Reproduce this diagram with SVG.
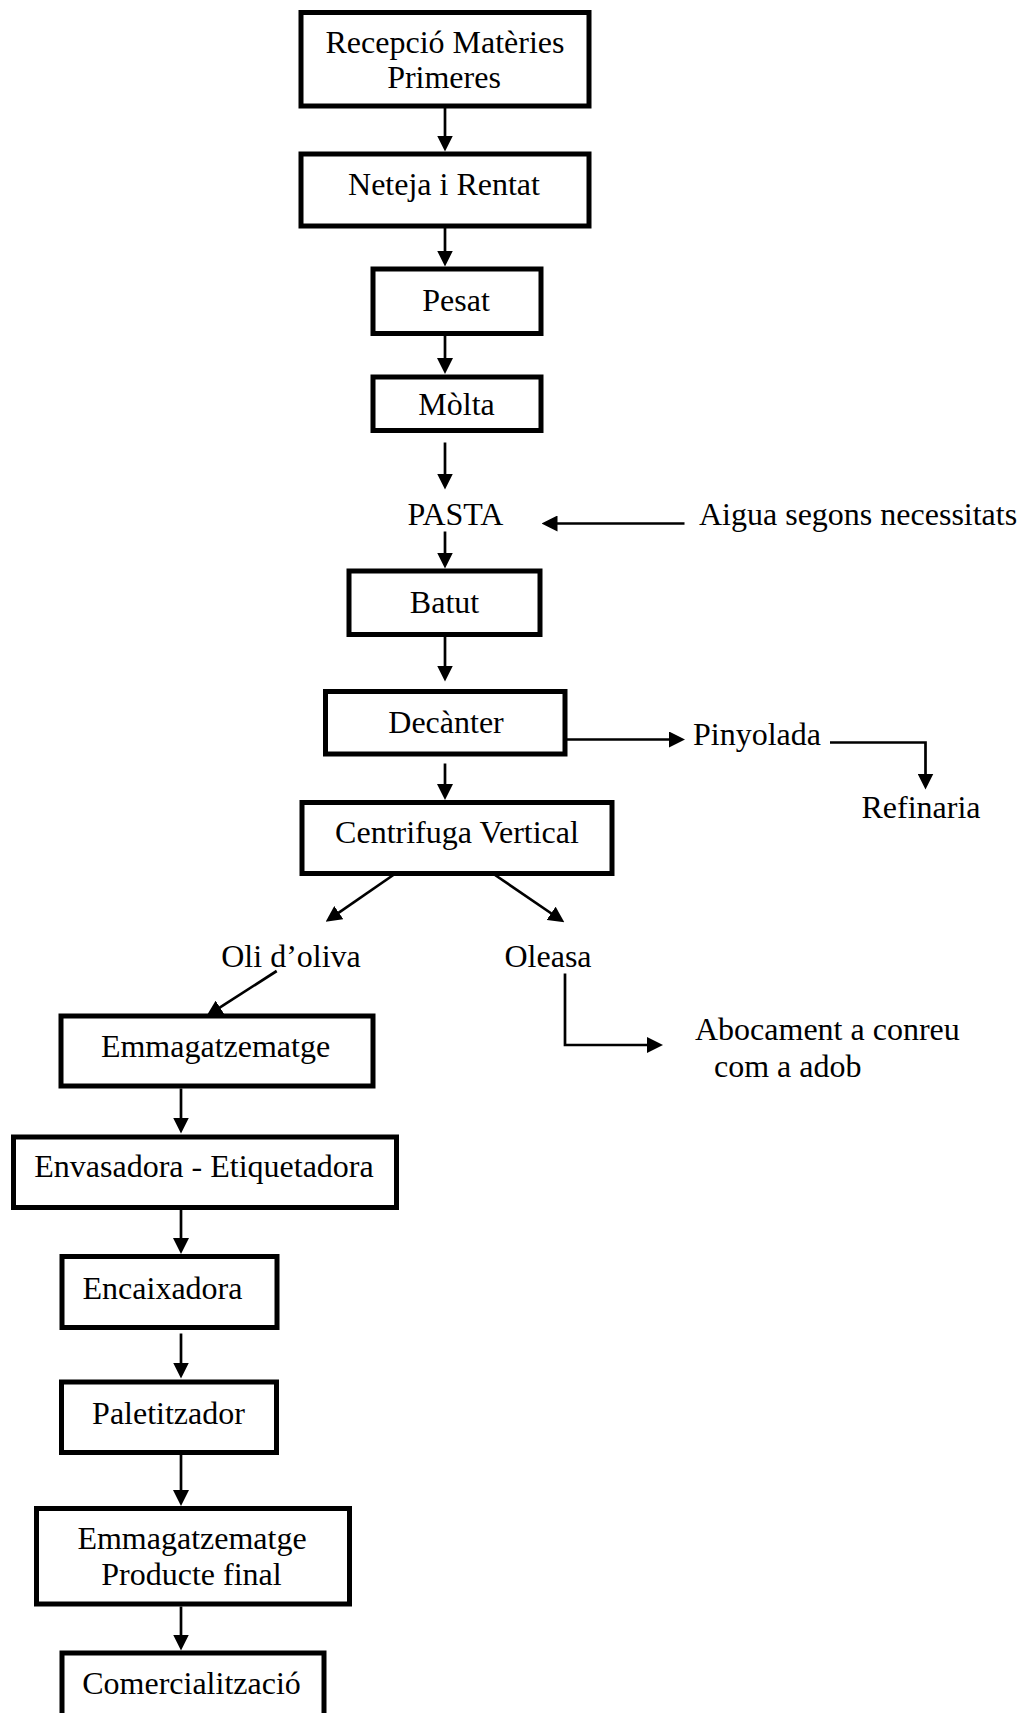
<svg xmlns="http://www.w3.org/2000/svg" width="1025" height="1713" viewBox="0 0 1025 1713">
  <style>
    .box { fill: #ffffff; stroke: #000000; stroke-width: 5; }
    .lbl { font-family: "Liberation Serif", "Times New Roman", serif; font-size: 32px; fill: #000000; }
    .mid { text-anchor: middle; }
    .edge { fill: none; stroke: #000000; stroke-width: 2.7; }
  </style>
  <defs>
    <marker id="arrow" markerUnits="userSpaceOnUse" markerWidth="16" markerHeight="16" refX="11" refY="8" orient="auto">
      <path d="M0,0 L16,8 L0,16 Z" fill="#000000"/>
    </marker>
  </defs>
  <rect width="1025" height="1713" fill="#ffffff"/>

  <!-- process steps -->
  <g id="recepcio">
    <rect class="box" x="301" y="12.5" width="288" height="93.5"/>
    <text class="lbl mid" x="445" y="53">Recepció Matèries</text>
    <text class="lbl mid" x="444" y="88">Primeres</text>
  </g>
  <g id="neteja">
    <rect class="box" x="301" y="154" width="288" height="72"/>
    <text class="lbl mid" x="444" y="195">Neteja i Rentat</text>
  </g>
  <g id="pesat">
    <rect class="box" x="373" y="269" width="168" height="64.5"/>
    <text class="lbl mid" x="456" y="310.5">Pesat</text>
  </g>
  <g id="molta">
    <rect class="box" x="373" y="377" width="168" height="53.5"/>
    <text class="lbl mid" x="456.5" y="415">Mòlta</text>
  </g>
  <g id="pasta">
    <text class="lbl mid" x="455.5" y="525">PASTA</text>
  </g>
  <g id="aigua">
    <text class="lbl" x="699" y="525">Aigua segons necessitats</text>
  </g>
  <g id="batut">
    <rect class="box" x="349" y="571" width="191" height="63.5"/>
    <text class="lbl mid" x="444.5" y="613">Batut</text>
  </g>
  <g id="decanter">
    <rect class="box" x="325.5" y="691.5" width="239.5" height="62.5"/>
    <text class="lbl mid" x="446" y="733">Decànter</text>
  </g>
  <g id="pinyolada">
    <text class="lbl" x="693" y="745">Pinyolada</text>
  </g>
  <g id="refinaria">
    <text class="lbl mid" x="921" y="818">Refinaria</text>
  </g>
  <g id="centrifuga">
    <rect class="box" x="302" y="802.5" width="310" height="71"/>
    <text class="lbl mid" x="457" y="843">Centrifuga Vertical</text>
  </g>
  <g id="oli">
    <text class="lbl mid" x="291" y="966.5">Oli d’oliva</text>
  </g>
  <g id="oleasa">
    <text class="lbl mid" x="548" y="966.5">Oleasa</text>
  </g>
  <g id="abocament">
    <text class="lbl" x="695" y="1040">Abocament a conreu</text>
    <text class="lbl" x="714" y="1076.5">com a adob</text>
  </g>
  <g id="emmagatzematge">
    <rect class="box" x="61" y="1016" width="312" height="70"/>
    <text class="lbl mid" x="215.5" y="1056.5">Emmagatzematge</text>
  </g>
  <g id="envasadora">
    <rect class="box" x="13.5" y="1137" width="383" height="70.5"/>
    <text class="lbl mid" x="204" y="1176.5">Envasadora - Etiquetadora</text>
  </g>
  <g id="encaixadora">
    <rect class="box" x="62" y="1256.5" width="215" height="71"/>
    <text class="lbl mid" x="162.5" y="1298.5">Encaixadora</text>
  </g>
  <g id="paletitzador">
    <rect class="box" x="61.5" y="1382" width="215" height="70.5"/>
    <text class="lbl mid" x="168.5" y="1423.5">Paletitzador</text>
  </g>
  <g id="producte-final">
    <rect class="box" x="36.5" y="1508.5" width="313" height="95.5"/>
    <text class="lbl mid" x="192" y="1548.5">Emmagatzematge</text>
    <text class="lbl mid" x="191.5" y="1585">Producte final</text>
  </g>
  <g id="comercialitzacio">
    <rect class="box" x="62" y="1653" width="262" height="80"/>
    <text class="lbl mid" x="191.5" y="1693.5">Comercialització</text>
  </g>

  <!-- connectors -->
  <g id="connectors">
    <line class="edge" x1="445" y1="108" x2="445" y2="146.5" marker-end="url(#arrow)"/>
    <line class="edge" x1="445" y1="228" x2="445" y2="261.5" marker-end="url(#arrow)"/>
    <line class="edge" x1="445" y1="336" x2="445" y2="369" marker-end="url(#arrow)"/>
    <line class="edge" x1="445" y1="442.5" x2="445" y2="484.5" marker-end="url(#arrow)"/>
    <line class="edge" x1="684.5" y1="523.5" x2="546.5" y2="523.5" marker-end="url(#arrow)"/>
    <line class="edge" x1="445" y1="531.5" x2="445" y2="563.5" marker-end="url(#arrow)"/>
    <line class="edge" x1="445" y1="636.5" x2="445" y2="676.5" marker-end="url(#arrow)"/>
    <line class="edge" x1="567" y1="739.5" x2="680" y2="739.5" marker-end="url(#arrow)"/>
    <polyline class="edge" points="830,742.5 925.5,742.5 925.5,784.5" marker-end="url(#arrow)"/>
    <line class="edge" x1="445" y1="763.5" x2="445" y2="795" marker-end="url(#arrow)"/>
    <line class="edge" x1="393.3" y1="875" x2="329.8" y2="918.9" marker-end="url(#arrow)"/>
    <line class="edge" x1="495" y1="875" x2="560.2" y2="919.5" marker-end="url(#arrow)"/>
    <line class="edge" x1="276.7" y1="971" x2="210.7" y2="1013.3" marker-end="url(#arrow)"/>
    <polyline class="edge" points="565,973.5 565,1045 658,1045" marker-end="url(#arrow)"/>
    <line class="edge" x1="181" y1="1088.5" x2="181" y2="1128.5" marker-end="url(#arrow)"/>
    <line class="edge" x1="181" y1="1210" x2="181" y2="1249" marker-end="url(#arrow)"/>
    <line class="edge" x1="181" y1="1333.5" x2="181" y2="1373.5" marker-end="url(#arrow)"/>
    <line class="edge" x1="181" y1="1455" x2="181" y2="1501" marker-end="url(#arrow)"/>
    <line class="edge" x1="181" y1="1606.5" x2="181" y2="1645.5" marker-end="url(#arrow)"/>
  </g>
</svg>
